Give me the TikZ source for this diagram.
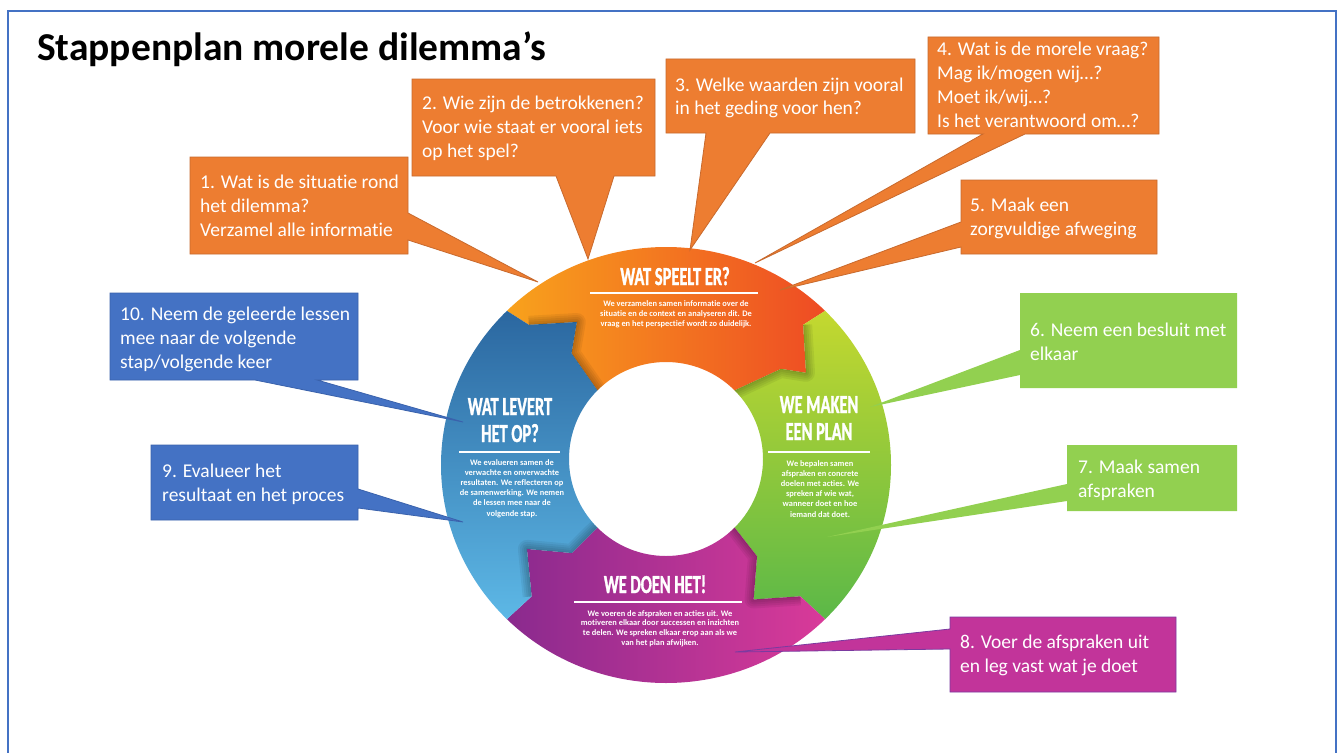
\documentclass[tikz,border=0pt]{standalone}
\usepackage{fontspec}
\setmainfont{Carlito}[Ligatures=NoCommon]
\newfontfamily\headfont{Carlito}[FakeStretch=0.63,FakeBold=1.2,Ligatures=NoCommon]
\usetikzlibrary{calc}

% palette
\definecolor{frameblue}{HTML}{4472C4}
\definecolor{boxorange}{HTML}{ED7D31}
\definecolor{edgeorange}{HTML}{C86A2E}
\definecolor{boxgreen}{HTML}{92D050}
\definecolor{boxblue}{HTML}{4472C4}
\definecolor{edgeblue}{HTML}{3A62AC}
\definecolor{boxmagenta}{HTML}{C2349A}
\definecolor{edgemagenta}{HTML}{7B3AA0}
\definecolor{orgL}{HTML}{F8A21C}
\definecolor{orgR}{HTML}{EE4B24}
\definecolor{grnT}{HTML}{C4D82F}
\definecolor{grnB}{HTML}{5BB848}
\definecolor{bluT}{HTML}{2B67A0}
\definecolor{bluB}{HTML}{5DB8E6}
\definecolor{purL}{HTML}{8A2A8E}
\definecolor{purR}{HTML}{D93A99}

\newcommand\txtlines[2]{\begin{tabular}[t]{@{}#1@{}}#2\end{tabular}}

\tikzset{
  frameline/.style={draw=frameblue, line width=2pt},
  callout text/.style={anchor=base west, inner sep=0pt, text=white,
    font=\fontsize{19.5}{24}\selectfont},
  ring head/.style={anchor=base, inner sep=0pt, text=white,
    font=\headfont\bfseries\fontsize{26}{27}\selectfont},
  ring body/.style={anchor=base, inner sep=0pt, text=white,
    font=\bfseries\fontsize{8.4}{10.2}\selectfont},
  ring rule/.style={draw=white, line width=2pt},
  orange box/.style={fill=boxorange, draw=edgeorange, line width=0.8pt, line join=miter},
  green box/.style={fill=boxgreen},
  blue box/.style={fill=boxblue, draw=edgeblue, line width=0.8pt},
  magenta box/.style={fill=boxmagenta, draw=edgemagenta, line width=0.8pt},
  % the four pieces of the cycle ring
  piece orange/.style={insert path={(oUL) arc[start angle=135,end angle=45,x radius=225,y radius=218]
      -- (aUR) -- (bUR) -- (cUR) -- (iUR) arc[start angle=45,end angle=135,radius=97]
      -- (cUL) -- (bUL) -- (aUL) -- cycle}},
  piece green/.style={insert path={(oUR) arc[start angle=45,end angle=-45,x radius=225,y radius=218]
      -- (aLR) -- (bLR) -- (cLR) -- (iLR) arc[start angle=-45,end angle=45,radius=97]
      -- (cUR) -- (bUR) -- (aUR) -- cycle}},
  piece purple/.style={insert path={(oLR) arc[start angle=-45,end angle=-135,x radius=225,y radius=218]
      -- (aLL) -- (bLL) -- (cLL) -- (iLL) arc[start angle=-135,end angle=-45,radius=97]
      -- (cLR) -- (bLR) -- (aLR) -- cycle}},
  piece blue/.style={insert path={(oLL) arc[start angle=-135,end angle=-225,x radius=225,y radius=218]
      -- (aUL) -- (bUL) -- (cUL) -- (iUL) arc[start angle=135,end angle=225,radius=97]
      -- (cLL) -- (bLL) -- (aLL) -- cycle}},
  tab shadow/.style={draw=black, opacity=0.06, line join=round},
}

\begin{document}
\begin{tikzpicture}[x=1pt,y=1pt]
\useasboundingbox (0,0) rectangle (1343,-752);
\fill[white] (0,0) rectangle (1343,-752);

% slide frame (open at the bottom)
\draw[frameline] (8,-760) |- (1336,-11) -- (1336,-760);

\node[anchor=base west, inner sep=0pt, font=\bfseries\fontsize{39.5}{45}\selectfont]
  (title) at (37,-60) {Stappenplan morele dilemma’s};

% ---------------- ring geometry ----------------
\coordinate (Co) at (666,-465);
\coordinate (Ci) at (666,-459);
\coordinate (Cm) at (666,-462);
% upper right boundary
\coordinate (oUR) at ($(Co)+(45:225 and 218)$);
\coordinate (aUR) at ($(Cm)+(45:194)$);
\coordinate (bUR) at ($(Cm)+(32.5:166)$);
\coordinate (cUR) at ($(Cm)+(39:148)$);
\coordinate (iUR) at ($(Ci)+(45:97)$);
% lower right boundary
\coordinate (oLR) at ($(Co)+(-45:225 and 218)$);
\coordinate (aLR) at ($(Cm)+(-45:190)$);
\coordinate (bLR) at ($(Cm)+(-57.5:163)$);
\coordinate (cLR) at ($(Cm)+(-46:131)$);
\coordinate (iLR) at ($(Ci)+(-45:97)$);
% lower left boundary
\coordinate (oLL) at ($(Co)+(-135:225 and 218)$);
\coordinate (aLL) at ($(Cm)+(-135:190)$);
\coordinate (bLL) at ($(Cm)+(-148:164)$);
\coordinate (cLL) at ($(Cm)+(-136:131)$);
\coordinate (iLL) at ($(Ci)+(-135:97)$);
% upper left boundary
\coordinate (oUL) at ($(Co)+(135:225 and 218)$);
\coordinate (aUL) at ($(Cm)+(135:194)$);
\coordinate (bUL) at ($(Cm)+(122.5:166)$);
\coordinate (cUL) at ($(Cm)+(131:144)$);
\coordinate (iUL) at ($(Ci)+(135:97)$);

\path[left color=orgL, right color=orgR, piece orange];
\path[top color=grnT, bottom color=grnB, piece green];
\path[left color=purL, right color=purR, piece purple];
\path[top color=bluT, bottom color=bluB, piece blue];

% soft shadows cast by the arrow tabs
\begin{scope}
  \clip[piece green];
  \foreach \w in {2,6,10,14,18}
    \draw[tab shadow, line width=\w pt] (aUR) -- (bUR) -- (cUR) -- (iUR);
\end{scope}
\begin{scope}
  \clip[piece purple];
  \foreach \w in {2,6,10,14,18}
    \draw[tab shadow, line width=\w pt] (aLR) -- (bLR) -- (cLR) -- (iLR);
\end{scope}
\begin{scope}
  \clip[piece blue];
  \foreach \w in {2,6,10,14,18}
    \draw[tab shadow, line width=\w pt] (aLL) -- (bLL) -- (cLL) -- (iLL);
\end{scope}
\begin{scope}
  \clip[piece orange];
  \foreach \w in {2,6,10,14,18}
    \draw[tab shadow, line width=\w pt] (aUL) -- (bUL) -- (cUL) -- (iUL);
\end{scope}

% ---------------- ring texts ----------------
\node[ring head] (headO) at (675,-285) {WAT SPEELT ER?};
\draw[ring rule] (590,-293) -- (758,-293);
\node[ring body] (bodyO) at (676,-306) {\txtlines{c}{We verzamelen samen informatie over de\\situatie en de context en analyseren dit. De\\vraag en het perspectief wordt zo duidelijk.}};

\node[ring head] (headB) at (510,-415) {\txtlines{c}{WAT LEVERT\\HET OP?}};
\draw[ring rule] (459,-452) -- (560,-452);
\node[ring body] (bodyB) at (512,-465) {\txtlines{c}{We evalueren samen de\\verwachte en onverwachte\\resultaten. We reflecteren op\\de samenwerking. We nemen\\de lessen mee naar de\\volgende stap.}};

\node[ring head] (headG) at (819,-413) {\txtlines{c}{WE MAKEN\\EEN PLAN}};
\draw[ring rule] (768,-452) -- (870,-452);
\node[ring body] (bodyG) at (820,-466) {\txtlines{c}{We bepalen samen\\afspraken en concrete\\doelen met acties. We\\spreken af wie wat,\\wanneer doet en hoe\\iemand dat doet.}};

\node[ring head] (headP) at (655,-593) {WE DOEN HET!};
\draw[ring rule] (574,-602) -- (742,-602);
\node[ring body, font=\bfseries\fontsize{8.4}{9.8}\selectfont] (bodyP) at (660,-616) {\txtlines{c}{We voeren de afspraken en acties uit. We\\motiveren elkaar door successen en inzichten\\te delen. We spreken elkaar erop aan als we\\van het plan afwijken.}};

% ---------------- callouts ----------------
\coordinate (tip1) at (538,-282);
\coordinate (tip2) at (588,-259);
\coordinate (tip3) at (690,-250);
\coordinate (tip4) at (755,-263);
\coordinate (tip5) at (780,-290);
\coordinate (tip6) at (870,-407);
\coordinate (tip7) at (827,-537);
\coordinate (tip8) at (735,-652);
\coordinate (tip9) at (463,-522);
\coordinate (tip10) at (463,-422);

\path[orange box] (190,-157) -- (408,-157) -- (408,-213) -- (tip1) -- (408,-240) -- (408,-254) -- (190,-254) -- cycle;
\node[callout text] (text1) at (200,-188) {\txtlines{l}{1. Wat is de situatie rond\\het dilemma?\\Verzamel alle informatie}};

\path[orange box] (412,-79) -- (655,-79) -- (655,-176) -- (614,-176) -- (tip2) -- (556,-176) -- (412,-176) -- cycle;
\node[callout text] (text2) at (422,-109) {\txtlines{l}{2. Wie zijn de betrokkenen?\\Voor wie staat er vooral iets\\op het spel?}};

\path[orange box] (666,-59) -- (915,-59) -- (915,-133) -- (770,-133) -- (tip3) -- (706,-133) -- (666,-133) -- cycle;
\node[callout text] (text3) at (675,-91) {\txtlines{l}{3. Welke waarden zijn vooral\\in het geding voor hen?}};

\path[orange box] (928,-37) -- (1159,-37) -- (1159,-134) -- (1025,-134) -- (tip4) -- (983,-134) -- (928,-134) -- cycle;
\node[callout text] (text4) at (937,-56) {\txtlines{l}{4. Wat is de morele vraag?\\Mag ik/mogen wij…?\\Moet ik/wij…?\\Is het verantwoord om…?}};

\path[orange box] (961,-180) -- (1157,-180) -- (1157,-254) -- (961,-254) -- (961,-247) -- (tip5) -- (961,-222) -- cycle;
\node[callout text] (text5) at (970,-211) {\txtlines{l}{5. Maak een\\zorgvuldige afweging}};

\path[green box] (1020,-293) -- (1237,-293) -- (1237,-388) -- (1020,-388) -- (1020,-375) -- (tip6) -- (1020,-350) -- cycle;
\node[callout text] (text6) at (1030,-336) {\txtlines{l}{6. Neem een besluit met\\elkaar}};

\path[green box] (1067,-445) -- (1237,-445) -- (1237,-511) -- (1067,-511) -- (1067,-501) -- (tip7) -- (1067,-484) -- cycle;
\node[callout text] (text7) at (1078,-473) {\txtlines{l}{7. Maak samen\\afspraken}};

\path[magenta box] (950,-617) -- (1176,-617) -- (1176,-692) -- (950,-692) -- (950,-649) -- (tip8) -- (950,-629) -- cycle;
\node[callout text] (text8) at (960,-648) {\txtlines{l}{8. Voer de afspraken uit\\en leg vast wat je doet}};

\path[blue box] (151,-445) -- (358,-445) -- (358,-489) -- (tip9) -- (358,-508) -- (358,-520) -- (151,-520) -- cycle;
\node[callout text] (text9) at (162,-477) {\txtlines{l}{9. Evalueer het\\resultaat en het proces}};

\path[blue box] (110,-293) -- (358,-293) -- (358,-380) -- (317,-380) -- (tip10) -- (255,-380) -- (110,-380) -- cycle;
\node[callout text] (text10) at (120,-320) {\txtlines{l}{10. Neem de geleerde lessen\\mee naar de volgende\\stap/volgende keer}};

\end{tikzpicture}
\end{document}
